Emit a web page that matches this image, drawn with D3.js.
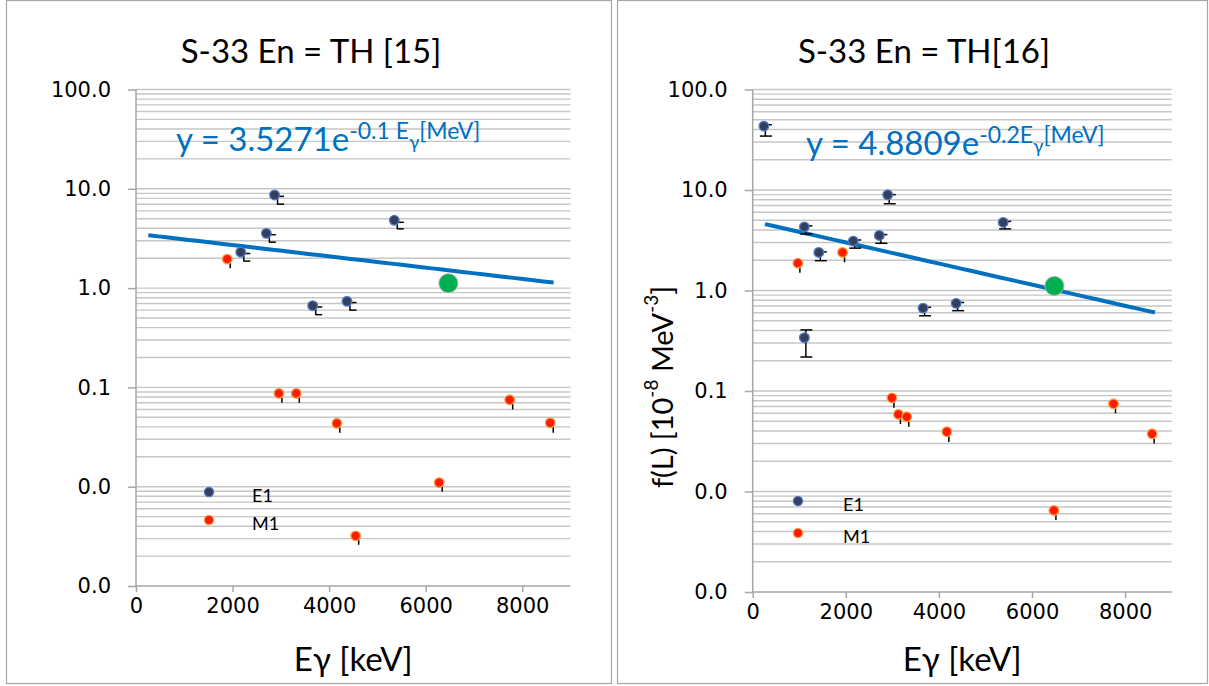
<!DOCTYPE html>
<html>
<head>
<meta charset="utf-8">
<script src="https://cdn.jsdelivr.net/npm/d3@7"></script>
<style>
  html, body { margin: 0; padding: 0; background: #fff; }
  svg { display: block; font-family: Lato, "Open Sans", sans-serif; }
</style>
</head>
<body>
<svg id="chart" width="1209" height="686"></svg>
<script>
// ---- axis ticks ----
const xTicks = [0, 2000, 4000, 6000, 8000];
const yTicks = [0.001, 0.01, 0.1, 1, 10, 100];

// ---- panel titles ----
const titles = ["S-33 En = TH [15]", "S-33 En = TH[16]"];

// ---- left panel (TH [15]) ----
const leftE1x  = [2170, 2700, 2870, 3660, 4370, 5350];
const leftE1y  = [2.30, 3.56, 8.67, 0.665, 0.736, 4.82];
const leftE1hi = [2.23, 3.45, 8.40, 0.645, 0.715, 4.60];
const leftE1lo = [1.87, 2.90, 7.00, 0.540, 0.600, 3.95];

const leftM1x  = [1890, 2960, 3320, 4160, 4550, 6280, 7740, 8580];
const leftM1y  = [1.96, 0.087, 0.087, 0.0435, 0.0032, 0.011, 0.075, 0.044];
const leftM1hi = [1.79, 0.081, 0.081, 0.040, 0.0030, 0.0102, 0.070, 0.041];
const leftM1lo = [1.58, 0.070, 0.070, 0.035, 0.0026, 0.0089, 0.060, 0.035];

// ---- right panel (TH[16]) ----
const rightE1x  = [240, 1110, 1110, 1420, 2160, 2720, 2900, 3660, 4370, 5380];
const rightE1y  = [43.2, 4.30, 0.339, 2.39, 3.10, 3.53, 8.96, 0.668, 0.745, 4.76];
const rightE1hi = [44.6, 4.40, 0.405, 2.42, 3.18, 3.60, 9.00, 0.680, 0.760, 4.87];
const rightE1lo = [34.4, 3.65, 0.218, 1.98, 2.64, 2.95, 7.30, 0.560, 0.630, 4.10];

const rightM1x  = [970, 1930, 2990, 3130, 3310, 4170, 6470, 7750, 8580];
const rightM1y  = [1.87, 2.39, 0.0855, 0.0585, 0.0554, 0.0393, 0.00648, 0.0746, 0.0375];
const rightM1hi = [1.70, 2.18, 0.078, 0.053, 0.050, 0.036, 0.0059, 0.068, 0.034];
const rightM1lo = [1.50, 1.91, 0.068, 0.047, 0.044, 0.031, 0.0052, 0.060, 0.030];

// ---- reference point (green) ----
const refX = [6470, 6480];
const refY = [1.12, 1.11];

// ---- exponential fits y = a * exp(b * E[MeV]) ----
const fitA    = [3.5271, 4.8809];
const fitB    = [-0.131, -0.242];
const fitFrom = [255, 264];
const fitTo   = [8650, 8640];
const fitSep  = [" ", ""];

const legendLabels = ["E1", "M1"];

// ---- styles ----
const C = {
  frame: "#a6a6a6", axis: "#a6a6a6", grid: "#c6c6c6",
  fit: "#0070c0", e1Fill: "#333f5c", e1Stroke: "#4f7ac7",
  m1Fill: "#ff1a00", m1Stroke: "#f4a040", refFill: "#00b050", refStroke: "#b0b0b0"
};

const panels = [
  {
    frame: [6.5, 0.5, 605, 683],
    plot: { x0: 136, x1: 570.5, y0: 89.5, y1: 586 },
    title: { x: 311, y: 63 },
    eq: { x: 176, y: 151 },
    legend: { mx: 209, tx: 252, y: [492, 520] },
    err: { dx: 3, capDx: 6, capW: 7, m1dx: 3 },
    E1: [leftE1x, leftE1y, leftE1hi, leftE1lo],
    M1: [leftM1x, leftM1y, leftM1hi, leftM1lo]
  },
  {
    frame: [617.5, 0.5, 590, 683],
    plot: { x0: 752.7, x1: 1171.7, y0: 89.5, y1: 592 },
    title: { x: 924, y: 63 },
    eq: { x: 806, y: 155 },
    ylabel: { x: 661, y: 387 },
    legend: { mx: 798, tx: 843, y: [501, 533] },
    err: { dx: 1.5, capDx: 2, capW: 12, m1dx: 2 },
    E1: [rightE1x, rightE1y, rightE1hi, rightE1lo],
    M1: [rightM1x, rightM1y, rightM1hi, rightM1lo]
  }
];

const svg = d3.select("#chart");
const fmtY = d3.format(".1f");
const hyphen = s => s.replace("\u2212", "-");

panels.forEach((p, i) => {
  const g = svg.append("g");
  const [fx, fy, fw, fh] = p.frame;
  g.append("rect").attr("x", fx).attr("y", fy).attr("width", fw).attr("height", fh)
    .attr("fill", "#fff").attr("stroke", C.frame).attr("stroke-width", 1.2);

  const x = d3.scaleLinear().domain([0, 9000]).range([p.plot.x0, p.plot.x1]);
  const y = d3.scaleLog().domain([0.001, 100]).range([p.plot.y1, p.plot.y0]);

  // horizontal gridlines at 1..9 x 10^k
  const gridVals = [];
  for (let k = -3; k <= 1; k++) for (let m = 1; m <= 9; m++) gridVals.push(m * Math.pow(10, k));
  gridVals.push(100);
  g.append("g").selectAll("line").data(gridVals.filter(v => v > 0.001)).join("line")
    .attr("x1", p.plot.x0).attr("x2", p.plot.x1)
    .attr("y1", d => y(d)).attr("y2", d => y(d))
    .attr("stroke", C.grid).attr("stroke-width", 1.4);

  // axes
  const yAxis = d3.axisLeft(y).tickValues(yTicks).tickFormat(fmtY).tickSize(8).tickPadding(17);
  const gy = g.append("g").attr("transform", `translate(${p.plot.x0},0)`).call(yAxis);
  const xAxis = d3.axisBottom(x).tickValues(xTicks).tickFormat(d3.format("d")).tickSize(6).tickPadding(6);
  const gx = g.append("g").attr("transform", `translate(0,${p.plot.y1})`).call(xAxis);
  [gx, gy].forEach(a => {
    a.attr("font-size", null).attr("font-family", null);
    a.select(".domain").attr("stroke", C.axis).attr("stroke-width", 1.5);
    a.selectAll(".tick line").attr("stroke", C.axis).attr("stroke-width", 1.5);
    a.selectAll(".tick text")
      .style("font-size", "21px").style("font-family", "'DejaVu Sans', sans-serif").style("fill", "#000");
  });
  gx.select(".domain").attr("d", `M${p.plot.x0},0H${p.plot.x1}`);
  gy.select(".domain").attr("d", `M0,${p.plot.y1}V${p.plot.y0}`);

  // title
  g.append("text").attr("x", p.title.x).attr("y", p.title.y).attr("text-anchor", "middle")
    .attr("font-size", 33).attr("fill", "#000").text(titles[i]);

  // x axis title
  g.append("text").attr("x", (p.plot.x0 + p.plot.x1) / 2).attr("y", 671).attr("text-anchor", "middle")
    .attr("font-size", 33).attr("fill", "#000").text("Eγ [keV]");

  // y axis title (right panel only)
  if (p.ylabel) {
    const t = g.append("text")
      .attr("transform", `translate(${p.ylabel.x},${p.ylabel.y}) rotate(-90)`)
      .attr("text-anchor", "middle").attr("dominant-baseline", "central")
      .attr("font-size", 29).attr("fill", "#000");
    t.append("tspan").text("f(L) [10");
    t.append("tspan").attr("font-size", 19).attr("dy", -11).text("-8");
    t.append("tspan").attr("dy", 11).text(" MeV");
    t.append("tspan").attr("font-size", 19).attr("dy", -11).text("-3");
    t.append("tspan").attr("dy", 11).text("]");
  }

  // fit line
  const fit = E => fitA[i] * Math.exp(fitB[i] * E / 1000);
  const fitPts = d3.range(fitFrom[i], fitTo[i] + 1, (fitTo[i] - fitFrom[i]) / 40);
  g.append("path").datum(fitPts)
    .attr("d", d3.line().x(d => x(d)).y(d => y(fit(d))))
    .attr("fill", "none").attr("stroke", C.fit).attr("stroke-width", 4);

  // fit equation
  const eq = g.append("text").attr("x", p.eq.x).attr("y", p.eq.y)
    .attr("font-size", 33).attr("fill", C.fit);
  eq.append("tspan").text(`y = ${d3.format(".4f")(fitA[i])}e`);
  eq.append("tspan").attr("font-size", 23).attr("dy", -12)
    .text(`${hyphen(d3.format(".1f")(fitB[i]))}${fitSep[i]}E`);
  eq.append("tspan").attr("font-size", 19).attr("dy", 10).text("γ");
  eq.append("tspan").attr("font-size", 23).attr("dy", -10).text("[MeV]");

  // error bars, E1 (with caps)
  const [ex, ey, ehi, elo] = p.E1;
  const eb = g.append("g").attr("stroke", "#000").attr("stroke-width", 1.5);
  ex.forEach((v, j) => {
    const px = x(v);
    eb.append("line").attr("x1", px + p.err.dx).attr("x2", px + p.err.dx)
      .attr("y1", y(ehi[j])).attr("y2", y(elo[j]));
    [ehi[j], elo[j]].forEach(b => {
      eb.append("line").attr("x1", px + p.err.capDx - p.err.capW / 2).attr("x2", px + p.err.capDx + p.err.capW / 2)
        .attr("y1", y(b)).attr("y2", y(b));
    });
  });
  // error bars, M1 (no caps)
  const [mx, my, mhi, mlo] = p.M1;
  mx.forEach((v, j) => {
    eb.append("line").attr("x1", x(v) + p.err.m1dx).attr("x2", x(v) + p.err.m1dx)
      .attr("y1", y(mhi[j])).attr("y2", y(mlo[j]));
  });

  // markers
  g.append("g").selectAll("circle").data(ex.map((v, j) => [v, ey[j]])).join("circle")
    .attr("cx", d => x(d[0])).attr("cy", d => y(d[1])).attr("r", 4.8)
    .attr("fill", C.e1Fill).attr("stroke", C.e1Stroke).attr("stroke-width", 1.3);
  g.append("g").selectAll("circle").data(mx.map((v, j) => [v, my[j]])).join("circle")
    .attr("cx", d => x(d[0])).attr("cy", d => y(d[1])).attr("r", 4.8)
    .attr("fill", C.m1Fill).attr("stroke", C.m1Stroke).attr("stroke-width", 1.3);
  g.append("circle").attr("cx", x(refX[i])).attr("cy", y(refY[i])).attr("r", 9.5)
    .attr("fill", C.refFill).attr("stroke", C.refStroke).attr("stroke-width", 1);

  // legend
  const lg = g.append("g");
  legendLabels.forEach((lab, k) => {
    lg.append("circle").attr("cx", p.legend.mx).attr("cy", p.legend.y[k]).attr("r", 4.6)
      .attr("fill", k === 0 ? C.e1Fill : C.m1Fill)
      .attr("stroke", k === 0 ? C.e1Stroke : C.m1Stroke).attr("stroke-width", 1.3);
    lg.append("text").attr("x", p.legend.tx).attr("y", p.legend.y[k] + 10)
      .attr("font-size", 18).attr("fill", "#000").text(lab);
  });
});
</script>
</body>
</html>
